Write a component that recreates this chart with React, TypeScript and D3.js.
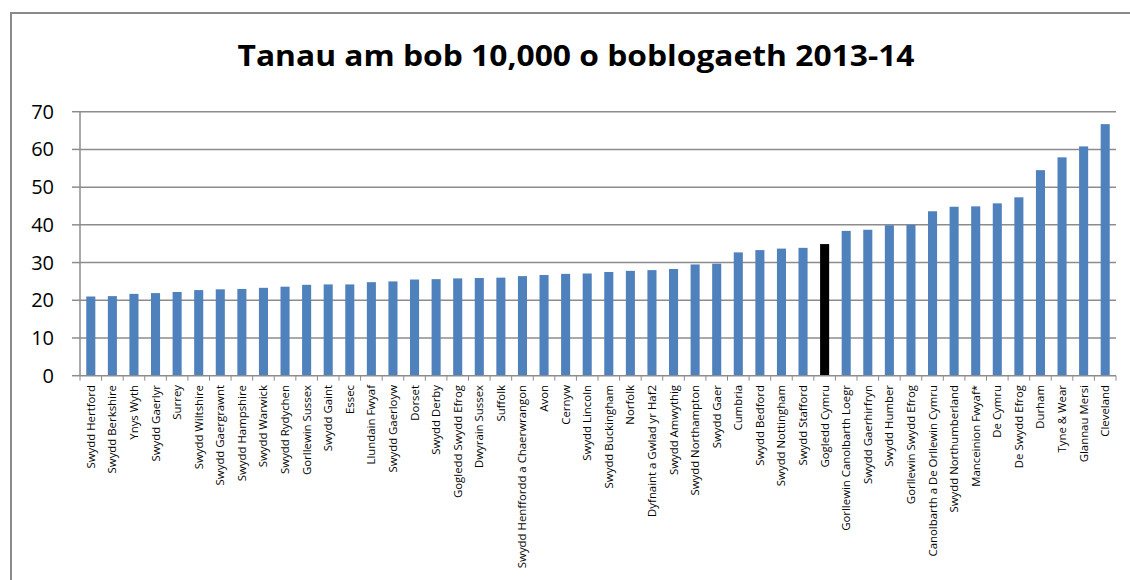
import React from "react";
import * as d3 from "d3";

const categories: string[] = [
  "Swydd Hertford", "Swydd Berkshire", "Ynys Wyth", "Swydd Gaerlyr", "Surrey",
  "Swydd Wiltshire", "Swydd Gaergrawnt", "Swydd Hampshire", "Swydd Warwick", "Swydd Rydychen",
  "Gorllewin Sussex", "Swydd Gaint", "Essec", "Llundain Fwyaf", "Swydd Gaerloyw",
  "Dorset", "Swydd Derby", "Gogledd Swydd Efrog", "Dwyrain Sussex", "Suffolk",
  "Swydd Henffordd a Chaerwrangon", "Avon", "Cernyw", "Swydd Lincoln", "Swydd Buckingham",
  "Norfolk", "Dyfnaint a Gwlad yr Haf2", "Swydd Amwythig", "Swydd Northampton", "Swydd Gaer",
  "Cumbria", "Swydd Bedford", "Swydd Nottingham", "Swydd Stafford", "Gogledd Cymru",
  "Gorllewin Canolbarth Loegr", "Swydd Gaerhirfryn", "Swydd Humber", "Gorllewin Swydd Efrog",
  "Canolbarth a De Orllewin Cymru", "Swydd Northumberland", "Manceinion Fwyaf*", "De Cymru",
  "De Swydd Efrog", "Durham", "Tyne & Wear", "Glannau Mersi", "Cleveland",
];

const values: number[] = [
  21.0, 21.1, 21.7, 21.9, 22.2,
  22.7, 22.9, 23.0, 23.3, 23.6,
  24.1, 24.2, 24.2, 24.8, 25.0,
  25.5, 25.6, 25.8, 25.9, 26.0,
  26.4, 26.7, 27.0, 27.1, 27.5,
  27.8, 28.0, 28.3, 29.5, 29.7,
  32.7, 33.3, 33.7, 33.9, 34.9,
  38.4, 38.7, 39.9, 40.0, 43.6,
  44.8, 44.9, 45.7, 47.3, 54.5,
  57.9, 60.8, 66.7,
];

const highlighted: string[] = ["Gogledd Cymru"];
const yTicks: number[] = [0, 10, 20, 30, 40, 50, 60, 70];
const title = "Tanau am bob 10,000 o boblogaeth 2013-14";

export default function App() {
  const W = 1130, H = 580;
  const left = 80, right = 1116, top = 111.7, bottom = 375.7;
  const x = d3.scaleBand<string>().domain(categories).range([left, right]).paddingInner(0.58).paddingOuter(0.29);
  const y = d3.scaleLinear().domain([0, 70]).range([bottom, top]);
  const step = x.step();
  const font = "Open Sans, sans-serif";
  const grid = "#8c8c8c";

  return (
    <svg width={W} height={H} style={{ position: "absolute", left: 0, top: 0, background: "#fff" }}>
      <rect x={11} y={13} width={1200} height={700} fill="#fff" stroke="#8a8a8a" strokeWidth={2} />
      <text x={576} y={66} textAnchor="middle" fontFamily={font} fontWeight="bold" fontSize={29}
        textLength={677} lengthAdjust="spacingAndGlyphs" fill="#000">{title}</text>
      {yTicks.map((t) => (
        <g key={t}>
          {t > 0 && <line x1={left} x2={right} y1={y(t)} y2={y(t)} stroke={grid} strokeWidth={1.5} />}
          <line x1={72} x2={left} y1={y(t)} y2={y(t)} stroke={grid} strokeWidth={1.5} />
          <text x={54} y={y(t)} dy="0.35em" textAnchor="end" fontFamily={font} fontSize={20} fill="#000">{t}</text>
        </g>
      ))}
      {categories.map((c, i) => (
        <rect key={c} x={x(c)} y={y(values[i])} width={x.bandwidth()} height={bottom - y(values[i])}
          fill={highlighted.includes(c) ? "#000" : "#4F81BD"} />
      ))}
      <line x1={left} x2={left} y1={top} y2={bottom} stroke={grid} strokeWidth={1.5} />
      <line x1={left} x2={right} y1={bottom} y2={bottom} stroke={grid} strokeWidth={1.5} />
      {d3.range(categories.length + 1).map((i) => (
        <line key={i} x1={left + i * step} x2={left + i * step} y1={bottom} y2={bottom + 5} stroke={grid} strokeWidth={1} />
      ))}
      {categories.map((c) => {
        const cx = (x(c) as number) + x.bandwidth() / 2;
        return (
          <text key={c} transform={`translate(${cx + 4},${385}) rotate(-90)`} textAnchor="end"
            fontFamily={font} fontSize={11.4} fill="#000">{c}</text>
        );
      })}
    </svg>
  );
}
